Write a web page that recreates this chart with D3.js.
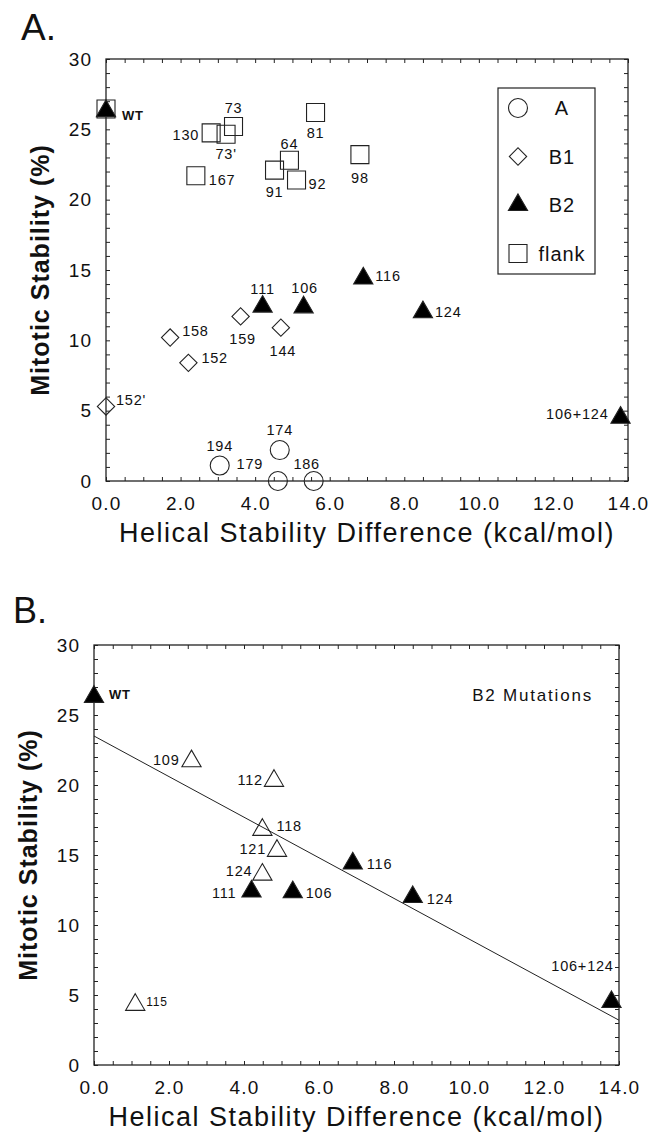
<!DOCTYPE html>
<html>
<head>
<meta charset="utf-8">
<script src="https://cdn.jsdelivr.net/npm/d3@7"></script>
<style>
body { margin:0; background:#fff; }
text { font-family: "Liberation Sans", Arial, Helvetica, sans-serif; fill:#111; }
</style>
</head>
<body>
<svg id="fig" width="652" height="1139"></svg>
<script>
// tick labels
var xTicks = [0,2,4,6,8,10,12,14];
var yTicks = [0,5,10,15,20,25,30];

// panel A : class A mutations (circles)
var aNames = ["194","174","179","186"];
var aX = [3.05,4.66,4.61,5.57];
var aY = [1.1,2.2,0,0];

// class B1 (diamonds)
var b1Names = ["158","152","159","144","152'"];
var b1X = [1.72,2.21,3.61,4.69,0];
var b1Y = [10.2,8.4,11.7,10.9,5.3];

// class B2 (filled triangles), also used in panel B
var b2Names = ["WT","111","106","116","124","106+124"];
var b2X = [0,4.2,5.3,6.9,8.5,13.8];
var b2Y = [26.3,12.4,12.35,14.4,12.0,4.5];

// flank (squares)
var flankNames = ["WT","73","130","73'","81","64","91","92","167","98"];
var flankX = [0,3.42,2.82,3.22,5.62,4.92,4.52,5.11,2.41,6.81];
var flankY = [26.45,25.2,24.75,24.65,26.2,22.8,22.1,21.4,21.7,23.2];

// panel B : other B2 mutations (open triangles)
var openNames = ["109","112","118","121","124","115"];
var openX = [2.6,4.8,4.49,4.88,4.49,1.1];
var openY = [21.7,20.3,16.8,15.3,13.6,4.3];

// fitted line in panel B
var fitX = [0,14];
var fitY = [23.5,3.2];

var legendNames = ["A","B1","B2","flank"];

var svg = d3.select("#fig");

var sym = {
	circle: d3.symbol().type(d3.symbolCircle).size(283),
	diamond: d3.symbol().type(d3.symbolSquare).size(150),
	triangle: d3.symbol().type(d3.symbolTriangle).size(160),
	square: d3.symbol().type(d3.symbolSquare).size(324)
};

function drawAxes(g, x, y, titleX){
	var x0 = x.range()[0], x1 = x.range()[1];
	var y0 = y.range()[0], y1 = y.range()[1];

	var minorX = d3.range(0,14.01,0.5), minorY = d3.range(0,30.01,1);

	// ticks pointing inward on the four sides
	var sides = [
		[d3.axisBottom(x).tickValues(minorX), "translate(0,"+y0+")"],
		[d3.axisTop(x).tickValues(minorX), "translate(0,"+y1+")"],
		[d3.axisLeft(y).tickValues(minorY), "translate("+x0+",0)"],
		[d3.axisRight(y).tickValues(minorY), "translate("+x1+",0)"]
	];
	sides.forEach(function(s){
		var a = g.append("g").attr("transform", s[1])
			.call(s[0].tickSize(-4).tickFormat(""));
		a.select(".domain").remove();
		a.selectAll("line").attr("stroke","#222").attr("stroke-width",1);
	});

	// tick labels
	var bx = g.append("g").attr("transform","translate(0,"+y0+")")
		.call(d3.axisBottom(x).tickValues(xTicks).tickSize(0).tickPadding(16).tickFormat(d3.format(".1f")));
	bx.select(".domain").remove();
	bx.selectAll("text").attr("font-size",19).attr("letter-spacing",1.2).attr("font-family",null).attr("fill","#111");

	var ly = g.append("g").attr("transform","translate("+x0+",0)")
		.call(d3.axisLeft(y).tickValues(yTicks).tickSize(0).tickPadding(14));
	ly.select(".domain").remove();
	ly.selectAll("text").attr("font-size",19).attr("letter-spacing",1).attr("font-family",null).attr("fill","#111");

	// frame
	g.append("rect")
		.attr("x",x0).attr("y",y1).attr("width",x1-x0).attr("height",y0-y1)
		.attr("fill","none").attr("stroke","#222").attr("stroke-width",1.3);

	// axis titles
	g.append("text")
		.attr("x",(x0+x1)/2).attr("y",y0+52)
		.attr("text-anchor","middle").attr("dominant-baseline","central")
		.attr("font-size",27).attr("letter-spacing",1.5)
		.text("Helical Stability Difference (kcal/mol)");

	g.append("text")
		.attr("transform","translate("+titleX+","+((y0+y1)/2)+") rotate(-90)")
		.attr("text-anchor","middle").attr("dominant-baseline","central")
		.attr("font-size",25).attr("font-weight","bold").attr("letter-spacing",1)
		.text("Mitotic Stability (%)");
}

function drawPoints(g, x, y, group, names, xs, ys, kind, filled, place, small){
	names.forEach(function(n,i){
		var cx = x(xs[i]), cy = y(ys[i]);
		g.append("path")
			.attr("d", sym[kind]())
			.attr("transform","translate("+cx+","+cy+")"+(kind=="diamond" ? " rotate(45)" : ""))
			.attr("fill", filled ? "#000" : "none")
			.attr("stroke","#222").attr("stroke-width",1.1);
		var p = place[group+":"+n];
		if(p){
			g.append("text")
				.attr("x",cx+p[0]).attr("y",cy+p[1])
				.attr("text-anchor",p[2]).attr("dominant-baseline","central")
				.attr("font-size", small && small[n] ? small[n] : 14.5)
				.attr("font-weight", n=="WT" ? "bold" : null)
				.attr("letter-spacing",0.8)
				.text(n);
		}
	});
}

// ---------- panel A ----------
var xA = d3.scaleLinear().domain([0,14]).range([106,628]);
var yA = d3.scaleLinear().domain([0,30]).range([481,59]);
var gA = svg.append("g");

svg.append("text").attr("x",21).attr("y",40).attr("font-size",37).text("A.");
drawAxes(gA, xA, yA, 40);

var placeA = {
	"flank:73":[0,-19,"middle"], "flank:130":[-12,2,"end"], "flank:73'":[0,20,"middle"],
	"flank:81":[0,21,"middle"], "flank:64":[0,-16,"middle"], "flank:91":[0,22,"middle"],
	"flank:92":[12,4,"start"], "flank:167":[13,4,"start"], "flank:98":[0,23,"middle"],
	"b1:158":[12,-7,"start"], "b1:152":[13,-5,"start"], "b1:159":[2,23,"middle"],
	"b1:144":[2,23,"middle"], "b1:152'":[10,-6,"start"],
	"b2:WT":[16,4,"start"], "b2:111":[0,-18,"middle"], "b2:106":[1,-19,"middle"],
	"b2:116":[12,-2,"start"], "b2:124":[12,0,"start"], "b2:106+124":[-12,-4,"end"],
	"a:194":[0,-20,"middle"], "a:174":[0,-20,"middle"], "a:179":[-28,-17,"middle"], "a:186":[-7,-17,"middle"]
};

drawPoints(gA, xA, yA, "flank", flankNames, flankX, flankY, "square", false, placeA);
drawPoints(gA, xA, yA, "b1", b1Names, b1X, b1Y, "diamond", false, placeA);
drawPoints(gA, xA, yA, "a", aNames, aX, aY, "circle", false, placeA);
drawPoints(gA, xA, yA, "b2", b2Names, b2X, b2Y, "triangle", true, placeA, {"WT":13});

// legend
var legKinds = ["circle","diamond","triangle","square"];
var leg = gA.append("g");
leg.append("rect").attr("x",498).attr("y",88).attr("width",97).attr("height",186)
	.attr("fill","#fff").attr("stroke","#222").attr("stroke-width",1.2);
legendNames.forEach(function(n,i){
	var ly = 108 + i*48.5;
	leg.append("path").attr("d", sym[legKinds[i]]())
		.attr("transform","translate(518,"+ly+")"+(legKinds[i]=="diamond" ? " rotate(45)" : ""))
		.attr("fill", legKinds[i]=="triangle" ? "#000" : "none")
		.attr("stroke","#222").attr("stroke-width",1.1);
	leg.append("text").attr("x",562).attr("y",ly)
		.attr("text-anchor","middle").attr("dominant-baseline","central")
		.attr("font-size",20).attr("letter-spacing",1)
		.text(n);
});

// ---------- panel B ----------
var xB = d3.scaleLinear().domain([0,14]).range([94,619]);
var yB = d3.scaleLinear().domain([0,30]).range([1065,645]);
var gB = svg.append("g");

svg.append("text").attr("x",13).attr("y",623).attr("font-size",36).text("B.");
drawAxes(gB, xB, yB, 28);

gB.append("path")
	.attr("d", d3.line()(fitX.map(function(v,i){ return [xB(v), yB(fitY[i])]; })))
	.attr("fill","none").attr("stroke","#222").attr("stroke-width",1);

gB.append("text").attr("x",593).attr("y",695)
	.attr("text-anchor","end").attr("dominant-baseline","central")
	.attr("font-size",17).attr("letter-spacing",1.8)
	.text("B2 Mutations");

var placeB = {
	"b2:WT":[15,-2,"start"], "b2:111":[-15,2,"end"], "b2:106":[13,1,"start"],
	"b2:116":[14,1,"start"], "b2:124":[14,2,"start"], "b2:106+124":[-29,-36,"middle"],
	"o:109":[-12,-1,"end"], "o:112":[-11,-1,"end"], "o:118":[14,-4,"start"],
	"o:121":[-11,-2,"end"], "o:124":[-10,-4,"end"], "o:115":[11,-3,"start"]
};

drawPoints(gB, xB, yB, "o", openNames, openX, openY, "triangle", false, placeB, {"115":12});
drawPoints(gB, xB, yB, "b2", b2Names, b2X, b2Y, "triangle", true, placeB, {"WT":13});
</script>
</body>
</html>
